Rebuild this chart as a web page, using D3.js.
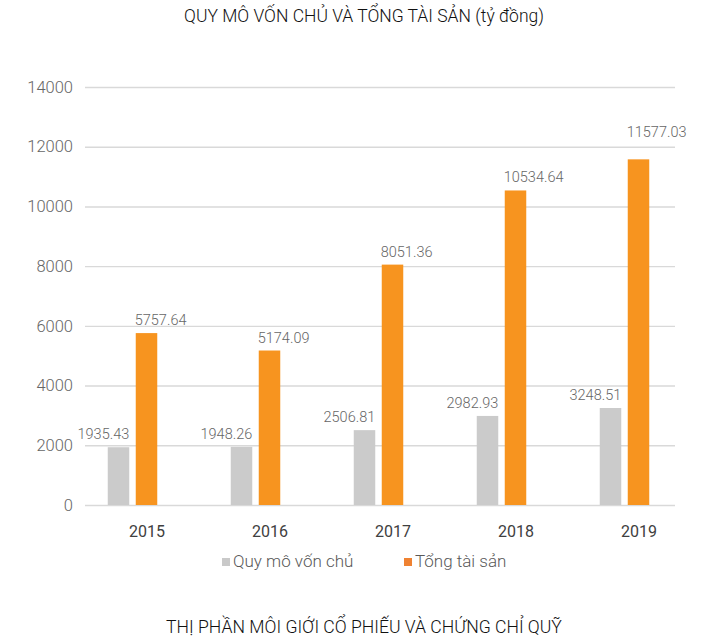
<!DOCTYPE html>
<html>
<head>
<meta charset="utf-8">
<script src="https://cdn.jsdelivr.net/npm/d3@7"></script>
<style>
  html, body { margin: 0; padding: 0; background: #fff; }
  svg { display: block; }
  text { font-family: Roboto, "Liberation Sans", sans-serif; }
</style>
</head>
<body>
<svg id="chart" width="728" height="642"></svg>
<script>
// Chart data
const years = ["2015", "2016", "2017", "2018", "2019"];
const vonChu = [1935.43, 1948.26, 2506.81, 2982.93, 3248.51];
const tongTaiSan = [5757.64, 5174.09, 8051.36, 10534.64, 11577.03];
const seriesNames = ["Quy mô vốn chủ", "Tổng tài sản"];
const yTicks = [0, 2000, 4000, 6000, 8000, 10000, 12000, 14000];

const colors = { bar0: "#cbcbcb", bar1: "#f7941f", leg0: "#c9c9c9", leg1: "#ef8232" };

const svg = d3.select("#chart");
const W = 728, H = 642;
const plot = { left: 85, right: 675, top: 87, bottom: 505 };

// Titles
svg.append("text")
  .attr("x", W / 2).attr("y", 22)
  .attr("text-anchor", "middle")
  .attr("font-size", 17.5).attr("font-weight", 300)
  .attr("fill", "#111")
  .text("QUY MÔ VỐN CHỦ VÀ TỔNG TÀI SẢN (tỷ đồng)");

svg.append("text")
  .attr("x", W / 2).attr("y", 633)
  .attr("text-anchor", "middle")
  .attr("font-size", 17.6).attr("font-weight", 300)
  .attr("fill", "#111")
  .text("THỊ PHẦN MÔI GIỚI CỔ PHIẾU VÀ CHỨNG CHỈ QUỸ");

// Scales
const y = d3.scaleLinear().domain([0, 14000]).range([plot.bottom, plot.top]);
const x = d3.scaleBand().domain(years).range([71, 686]);
const xs = d3.scaleBand().domain([0, 1])
  .range([x.bandwidth() / 2 - 24.75, x.bandwidth() / 2 + 24.75])
  .paddingInner(0.232);

// Gridlines and y tick labels
const yAxis = svg.append("g")
  .attr("transform", `translate(${plot.left},0)`)
  .call(d3.axisLeft(y).tickValues(yTicks).tickFormat(d3.format("d"))
    .tickSizeInner(-(plot.right - plot.left)).tickSizeOuter(0).tickPadding(12));
yAxis.select(".domain").remove();
yAxis.selectAll(".tick line").attr("stroke", "#d9d9d9").attr("stroke-width", 1.4);
yAxis.selectAll(".tick text")
  .attr("font-size", 16.5).attr("font-weight", 300)
  .attr("fill", "#666").attr("font-family", "Roboto, sans-serif");

// Bars
const rows = years.map((yr, i) => ({ year: yr, values: [vonChu[i], tongTaiSan[i]] }));
const groups = svg.append("g").selectAll("g")
  .data(rows).join("g")
  .attr("transform", d => `translate(${x(d.year)},0)`);

groups.selectAll("rect")
  .data(d => d.values.map((v, s) => ({ v, s })))
  .join("rect")
  .attr("x", d => xs(d.s))
  .attr("width", xs.bandwidth())
  .attr("y", d => y(d.v))
  .attr("height", d => y(0) - y(d.v))
  .attr("fill", d => d.s === 0 ? colors.bar0 : colors.bar1);

// Value labels: equity labels end at the bar's right edge, asset labels start at its left edge
const labelLift = { "1-2019": 14 };
groups.selectAll("text.val")
  .data(d => d.values.map((v, s) => ({ v, s, year: d.year })))
  .join("text")
  .attr("class", "val")
  .attr("x", d => d.s === 0 ? xs(d.s) + xs.bandwidth() : xs(d.s) - 1)
  .attr("y", d => y(d.v) - 8 - (labelLift[`${d.s}-${d.year}`] || 0))
  .attr("text-anchor", d => d.s === 0 ? "end" : "start")
  .attr("font-size", 14.5).attr("font-weight", 300)
  .attr("fill", "#666")
  .text(d => d3.format(".2f")(d.v));

// Category labels
const xAxis = svg.append("g")
  .attr("transform", `translate(14.5,${plot.bottom})`)
  .call(d3.axisBottom(x).tickSize(0).tickPadding(21));
xAxis.select(".domain").remove();
xAxis.selectAll(".tick text")
  .attr("font-size", 16).attr("font-weight", 400)
  .attr("fill", "#404040").attr("font-family", "Roboto, sans-serif")
  .attr("dy", "0.71em");

// Legend
const legend = svg.append("g").attr("transform", "translate(222,567)");
const legX = [0, 182];
seriesNames.forEach((name, i) => {
  const g = legend.append("g").attr("transform", `translate(${legX[i]},0)`);
  g.append("rect").attr("x", 0).attr("y", -9).attr("width", 8).attr("height", 8)
    .attr("fill", i === 0 ? colors.leg0 : colors.leg1);
  g.append("text").attr("x", 11).attr("y", 0)
    .attr("font-size", 17).attr("font-weight", 300).attr("fill", "#595959")
    .text(name);
});
</script>
</body>
</html>
